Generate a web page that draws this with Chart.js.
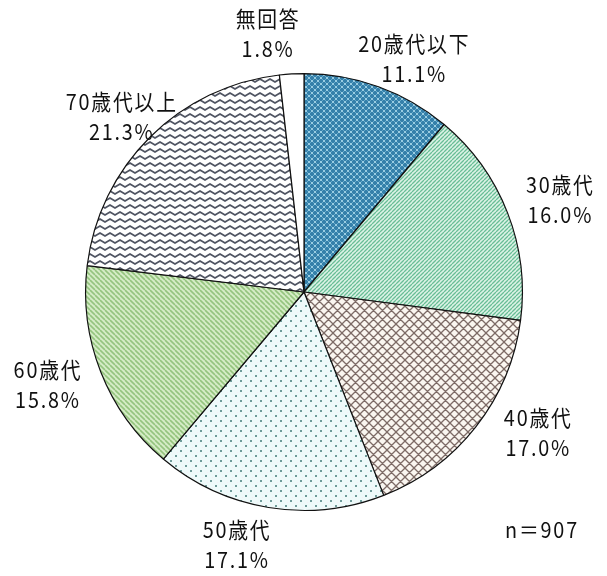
<!DOCTYPE html>
<html>
<head>
<meta charset="utf-8">
<script src="https://cdn.jsdelivr.net/npm/chart.js@4.4.1/dist/chart.umd.min.js"></script>
<style>
  html, body { margin: 0; padding: 0; background: #fff; }
  #wrap { width: 607px; height: 576px; position: relative; }
</style>
</head>
<body>
<div id="wrap"><canvas id="pie"></canvas></div>
<script>
const LABELS = ["20歳代以下", "30歳代", "40歳代", "50歳代", "60歳代", "70歳代以上", "無回答"];
const PERCENTS = [11.1, 16.0, 17.0, 17.1, 15.8, 21.3, 1.8];
const TOTAL_N = 907;
const FONT = '"Noto Sans CJK JP", "Noto Sans", sans-serif';

// small nudges applied to each outside label after radial placement
const LABEL_NUDGE = [[20, 15], [10, 4], [26, -22], [-24, -8], [-10, -4], [4, 12], [-21, 6]];

// Pattern tiles
function makeTile(w, h, draw) {
  const c = document.createElement("canvas");
  c.width = w;
  c.height = h;
  const g = c.getContext("2d");
  draw(g, w, h);
  return g.createPattern(c, "repeat");
}

function bluePattern() {
  return makeTile(6, 6, (g) => {
    g.fillStyle = "#3580aa";
    g.fillRect(0, 0, 6, 6);
    g.fillStyle = "#9acde2";
    g.fillRect(2, 0, 2, 1);
    g.fillRect(0, 2, 1, 2);
    g.fillRect(5, 2, 1, 2);
    g.fillRect(2, 5, 2, 1);
    g.fillStyle = "#68abcb";
    g.fillRect(1, 1, 1, 1);
    g.fillRect(4, 1, 1, 1);
    g.fillRect(1, 4, 1, 1);
    g.fillRect(4, 4, 1, 1);
  });
}

function stripePattern(bg, fg, size, width, forward) {
  return makeTile(size, size, (g, w, h) => {
    g.fillStyle = bg;
    g.fillRect(0, 0, w, h);
    g.strokeStyle = fg;
    g.lineWidth = width;
    g.beginPath();
    for (let k = -1; k <= 1; k++) {
      if (forward) {
        g.moveTo(k * w, h);
        g.lineTo(k * w + w, 0);
      } else {
        g.moveTo(k * w, 0);
        g.lineTo(k * w + w, h);
      }
    }
    g.stroke();
  });
}

function latticePattern() {
  return makeTile(9, 9, (g) => {
    g.fillStyle = "#faf6f0";
    g.fillRect(0, 0, 9, 9);
    g.strokeStyle = "#7d6b66";
    g.lineWidth = 1.3;
    g.beginPath();
    for (let k = -1; k <= 1; k++) {
      g.moveTo(k * 9, 9);
      g.lineTo(k * 9 + 9, 0);
      g.moveTo(k * 9, 0);
      g.lineTo(k * 9 + 9, 9);
    }
    g.stroke();
  });
}

function dotPattern() {
  return makeTile(10, 10, (g) => {
    g.fillStyle = "#eefafa";
    g.fillRect(0, 0, 10, 10);
    g.fillStyle = "#f6eef6";
    g.fillRect(2, 7, 1, 1);
    g.fillRect(7, 2, 1, 1);
    g.fillStyle = "#6f9c9a";
    g.fillRect(0, 0, 2, 2);
    g.fillRect(5, 5, 2, 2);
  });
}

function zigzagPattern() {
  return makeTile(10, 7, (g) => {
    g.fillStyle = "#ffffff";
    g.fillRect(0, 0, 10, 7);
    g.strokeStyle = "#4f5462";
    g.lineWidth = 1.8;
    g.beginPath();
    g.moveTo(-2.5, 5);
    g.lineTo(0, 2);
    g.lineTo(5, 5);
    g.lineTo(10, 2);
    g.lineTo(12.5, 5);
    g.stroke();
  });
}

const FILLS = [
  bluePattern(),
  stripePattern("#dcf3e6", "#68bd96", 4, 1.3, true),
  latticePattern(),
  dotPattern(),
  stripePattern("#d5ecc6", "#94c47e", 5, 1.6, false),
  zigzagPattern(),
  "#ffffff",
];

function drawNarrow(ctx, text, x, y) {
  ctx.save();
  ctx.translate(x, y);
  ctx.scale(0.9, 1);
  ctx.fillText(text, 0, 0);
  ctx.restore();
}

// Category and percentage labels placed outside each slice
const outsideLabels = {
  id: "outsideLabels",
  afterDraw(chart) {
    const ctx = chart.ctx;
    const arcs = chart.getDatasetMeta(0).data;
    ctx.save();
    ctx.fillStyle = "#111";
    ctx.textAlign = "center";
    ctx.textBaseline = "middle";
    ctx.font = "22px " + FONT;
    ctx.letterSpacing = "2px";
    arcs.forEach((arc, i) => {
      const p = arc.getProps(["x", "y", "startAngle", "endAngle", "outerRadius"]);
      const mid = (p.startAngle + p.endAngle) / 2;
      const r = p.outerRadius + 46;
      const cx = p.x + Math.cos(mid) * r + LABEL_NUDGE[i][0];
      const cy = p.y + Math.sin(mid) * r + LABEL_NUDGE[i][1];
      drawNarrow(ctx, LABELS[i], cx, cy - 15);
      drawNarrow(ctx, PERCENTS[i].toFixed(1) + "%", cx, cy + 15);
    });
    drawNarrow(ctx, "n＝" + TOTAL_N, 542, 530);
    ctx.restore();
  },
};

new Chart(document.getElementById("pie"), {
  type: "pie",
  data: {
    labels: LABELS,
    datasets: [
      {
        data: PERCENTS,
        backgroundColor: FILLS,
        borderColor: "#111",
        borderWidth: 1.2,
      },
    ],
  },
  options: {
    responsive: true,
    maintainAspectRatio: false,
    animation: false,
    layout: { padding: { top: 73, bottom: 65, left: 85, right: 84 } },
    plugins: {
      legend: { display: false },
      tooltip: { enabled: false },
    },
  },
  plugins: [outsideLabels],
});
</script>
</body>
</html>
